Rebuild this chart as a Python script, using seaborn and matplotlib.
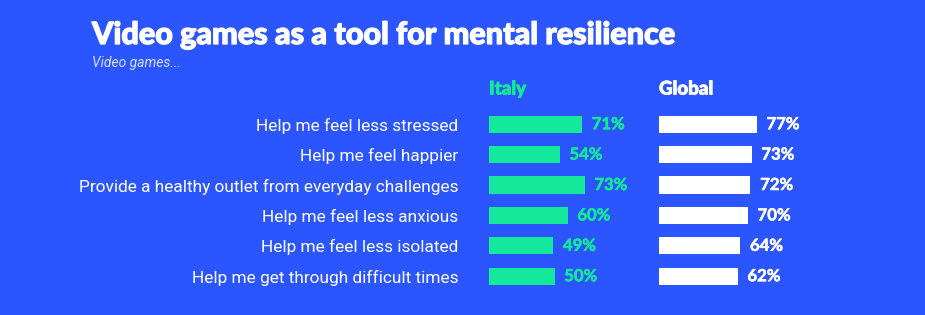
import matplotlib
matplotlib.use("Agg")
import matplotlib.pyplot as plt
import matplotlib.patheffects as pe
import seaborn as sns
import pandas as pd

categories = [
    "Help me feel less stressed",
    "Help me feel happier",
    "Provide a healthy outlet from everyday challenges",
    "Help me feel less anxious",
    "Help me feel less isolated",
    "Help me get through difficult times",
]
italy = [71, 54, 73, 60, 49, 50]
global_vals = [77, 73, 72, 70, 64, 62]

title = "Video games as a tool for mental resilience"
subtitle = "Video games..."
series_names = ["Italy", "Global"]

BG = "#2B55FF"
GREEN = "#14E89A"
WHITE = "#FFFFFF"

sns.set_theme(style="white")
plt.rcParams["font.family"] = ["Roboto", "DejaVu Sans"]

W, H = 925, 315
fig = plt.figure(figsize=(W / 100, H / 100), dpi=100)
fig.patch.set_facecolor(BG)

top_px, band = 109.0, 30.4
bottom_px = top_px + band * len(categories)

def make_ax(x0, px_per_unit):
    ax = fig.add_axes([x0 / W, (H - bottom_px) / H, 100 * px_per_unit / W, (bottom_px - top_px) / H])
    ax.set_facecolor(BG)
    return ax

ax1 = make_ax(489, 1.31)
ax2 = make_ax(659, 1.27)

df = pd.DataFrame({"cat": categories, "italy": italy, "global": global_vals})

for ax, col, color, vals in [(ax1, "italy", GREEN, italy), (ax2, "global", WHITE, global_vals)]:
    sns.barplot(data=df, x=col, y="cat", orient="h", color=color, width=0.56,
                saturation=1, linewidth=0, edgecolor=color, ax=ax)
    ax.set_xlim(0, 100)
    ax.set_xlabel("")
    ax.set_ylabel("")
    ax.set_xticks([])
    for s in ax.spines.values():
        s.set_visible(False)
    labels = ax.bar_label(ax.containers[0], labels=[f"{v}%" for v in vals], padding=7,
                          color=color, fontsize=12, fontweight="bold",
                          family=["Lato", "DejaVu Sans"])
    for t in labels:
        t.set_path_effects([pe.withStroke(linewidth=0.4, foreground=color)])

ax1.tick_params(axis="y", length=0, pad=22, labelsize=12.4, labelcolor=WHITE)
ax2.set_yticks([])

heavy = [pe.withStroke(linewidth=0.9, foreground=WHITE)]
fig.text(92 / W, 1 - 35 / H, title, color=WHITE, fontsize=22, fontweight="black",
         family=["Lato", "DejaVu Sans"], va="center", ha="left", path_effects=heavy)
fig.text(92 / W, 1 - 63 / H, subtitle, color="#D8DEFF", fontsize=10, style="italic",
         va="center", ha="left")
fig.text(489 / W, 1 - 89 / H, series_names[0], color=GREEN, fontsize=13.5,
         fontweight="black", family=["Lato", "DejaVu Sans"], va="center", ha="left",
         path_effects=[pe.withStroke(linewidth=0.6, foreground=GREEN)])
fig.text(659 / W, 1 - 89 / H, series_names[1], color=WHITE, fontsize=13.5,
         fontweight="black", family=["Lato", "DejaVu Sans"], va="center", ha="left",
         path_effects=[pe.withStroke(linewidth=0.6, foreground=WHITE)])

fig.savefig("out.png", dpi=100, facecolor=BG)
